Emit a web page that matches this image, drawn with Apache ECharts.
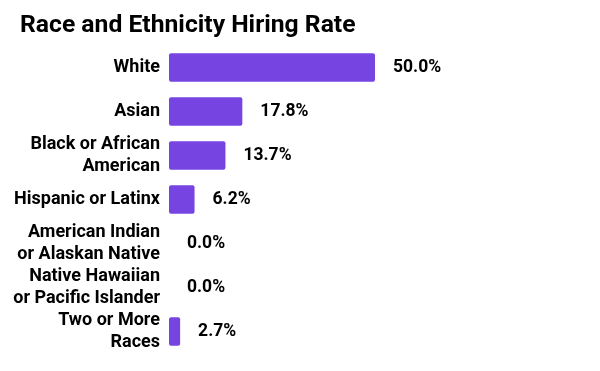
<!DOCTYPE html>
<html><head><meta charset="utf-8">
<script src="https://cdn.jsdelivr.net/npm/echarts@6/dist/echarts.min.js"></script>
<style>html,body{margin:0;padding:0;background:#fff}#c{width:600px;height:371px}</style>
</head><body><div id="c"></div>
<script>
const categories = ["White","Asian","Black or African\nAmerican","Hispanic or Latinx","American Indian\nor Alaskan Native","Native Hawaiian\nor Pacific Islander","Two or More\nRaces"];
const values = [50.0, 17.8, 13.7, 6.2, 0.0, 0.0, 2.7];
const titleText = "Race and Ethnicity Hiring Rate";

const chart = echarts.init(document.getElementById('c'), null, {renderer:'canvas'});
chart.setOption({
  animation:false,
  backgroundColor:'#fff',
  textStyle:{fontFamily:'Roboto'},
  title:{text:titleText,left:15,top:8,textStyle:{fontFamily:'Roboto',fontWeight:'bold',fontSize:24.7,color:'#000'}},
  grid:{left:169,right:225,top:45.5,bottom:17.5,containLabel:false},
  xAxis:{type:'value',min:0,max:50,show:false},
  yAxis:{type:'category',data:categories,inverse:true,
    axisLine:{show:false},axisTick:{show:false},
    axisLabel:{margin:9,fontFamily:'Roboto',fontWeight:'bold',fontSize:18,color:'#000',lineHeight:22,align:'right'}},
  series:[{type:'bar',data:values,barCategoryGap:'35%',
    itemStyle:{color:'#7644E1',borderRadius:2},
    label:{show:true,position:'right',distance:18,fontFamily:'Roboto',fontWeight:'bold',fontSize:17.5,color:'#000',
      formatter:p=>p.value.toFixed(1)+'%'}}]
});
</script></body></html>
